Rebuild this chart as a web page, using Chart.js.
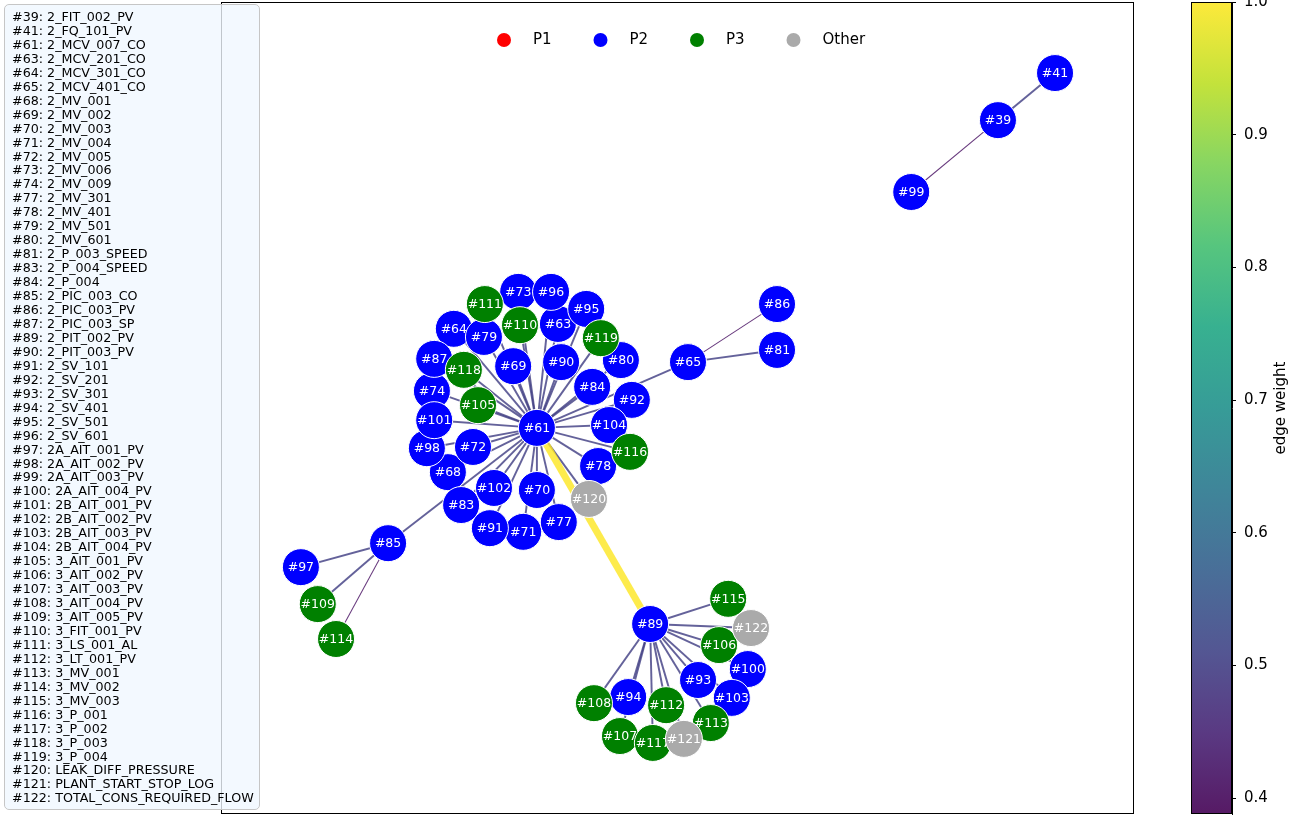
<!DOCTYPE html>
<html>
<head>
<meta charset="utf-8">
<title>Sensor correlation network</title>
<script src="https://cdn.jsdelivr.net/npm/chart.js@4.4.1/dist/chart.umd.min.js"></script>
<style>
  html, body { margin: 0; padding: 0; background: #ffffff; }
  #wrap { position: relative; width: 1305px; height: 817px; overflow: hidden; }
  #main { position: absolute; left: 0; top: 0; }
  #cbar { position: absolute; left: 1180px; top: 0; }
  #names {
    position: absolute; left: 4px; top: 4px; width: 256px; height: 806px;
    box-sizing: border-box; border: 1px solid #c6c6c6; border-radius: 5px;
    background: rgba(240, 247, 255, 0.8);
    padding: 5px 0 0 7px; margin: 0;
    font: 12.7px "DejaVu Sans", sans-serif; line-height: 13.95px; color: #000;
    white-space: pre;
  }
</style>
</head>
<body>
<div id="wrap">
  <canvas id="main" width="1305" height="817"></canvas>
  <canvas id="cbar" width="125" height="817"></canvas>
  <div id="names"></div>
</div>
<script>
// ---- nodes: id, tag name, group, layout position ----
const nodeIds = [39, 41, 61, 63, 64, 65, 68, 69, 70, 71, 72, 73, 74, 77, 78, 79, 80, 81, 83, 84, 85, 86, 87,
  89, 90, 91, 92, 93, 94, 95, 96, 97, 98, 99, 100, 101, 102, 103, 104, 105, 106, 107, 108, 109, 110,
  111, 112, 113, 114, 115, 116, 117, 118, 119, 120, 121, 122];
const nodeNames = ["2_FIT_002_PV", "2_FQ_101_PV", "2_MCV_007_CO", "2_MCV_201_CO", "2_MCV_301_CO", "2_MCV_401_CO",
  "2_MV_001", "2_MV_002", "2_MV_003", "2_MV_004", "2_MV_005", "2_MV_006", "2_MV_009", "2_MV_301", "2_MV_401",
  "2_MV_501", "2_MV_601", "2_P_003_SPEED", "2_P_004_SPEED", "2_P_004", "2_PIC_003_CO", "2_PIC_003_PV",
  "2_PIC_003_SP", "2_PIT_002_PV", "2_PIT_003_PV", "2_SV_101", "2_SV_201", "2_SV_301", "2_SV_401", "2_SV_501",
  "2_SV_601", "2A_AIT_001_PV", "2A_AIT_002_PV", "2A_AIT_003_PV", "2A_AIT_004_PV", "2B_AIT_001_PV",
  "2B_AIT_002_PV", "2B_AIT_003_PV", "2B_AIT_004_PV", "3_AIT_001_PV", "3_AIT_002_PV", "3_AIT_003_PV",
  "3_AIT_004_PV", "3_AIT_005_PV", "3_FIT_001_PV", "3_LS_001_AL", "3_LT_001_PV", "3_MV_001", "3_MV_002",
  "3_MV_003", "3_P_001", "3_P_002", "3_P_003", "3_P_004", "LEAK_DIFF_PRESSURE", "PLANT_START_STOP_LOG",
  "TOTAL_CONS_REQUIRED_FLOW"];
const nodeGroup = ["P2", "P2", "P2", "P2", "P2", "P2", "P2", "P2", "P2", "P2", "P2", "P2", "P2", "P2", "P2",
  "P2", "P2", "P2", "P2", "P2", "P2", "P2", "P2", "P2", "P2", "P2", "P2", "P2", "P2", "P2", "P2", "P2", "P2",
  "P2", "P2", "P2", "P2", "P2", "P2", "P3", "P3", "P3", "P3", "P3", "P3", "P3", "P3", "P3", "P3", "P3", "P3",
  "P3", "P3", "P3", "Other", "Other", "Other"];
const nodeX = [0.702, 0.827, -0.308, -0.262, -0.490, 0.023, -0.503, -0.360, -0.308, -0.338, -0.448, -0.349,
  -0.538, -0.260, -0.174, -0.424, -0.124, 0.218, -0.474, -0.187, -0.634, 0.218, -0.533, -0.060, -0.255,
  -0.411, -0.100, 0.045, -0.108, -0.200, -0.277, -0.825, -0.549, 0.512, 0.154, -0.533, -0.402, 0.119,
  -0.150, -0.437, 0.091, -0.126, -0.183, -0.788, -0.345, -0.422, -0.025, 0.073, -0.748, 0.111, -0.104,
  -0.054, -0.468, -0.168, -0.194, 0.014, 0.161];
const nodeY = [0.709, 0.825, -0.049, 0.207, 0.195, 0.113, -0.158, 0.103, -0.202, -0.305, -0.096, 0.286,
  0.042, -0.281, -0.143, 0.175, 0.118, 0.143, -0.239, 0.052, -0.333, 0.256, 0.121, -0.532, 0.113, -0.296,
  0.020, -0.670, -0.712, 0.244, 0.286, -0.392, -0.099, 0.532, -0.643, -0.030, -0.197, -0.714, -0.042,
  0.007, -0.584, -0.808, -0.727, -0.483, 0.204, 0.256, -0.732, -0.776, -0.569, -0.470, -0.108, -0.825,
  0.094, 0.172, -0.224, -0.815, -0.542];

// ---- edges: endpoints and weight ----
const edgeSource = [61, 61, 61, 61, 61, 61, 61, 61, 61, 61, 61, 61, 61, 61, 61, 61, 61, 61, 61, 61, 61, 61,
  61, 61, 61, 61, 61, 61, 61, 61, 61, 61, 61, 61, 65, 65, 39, 39, 85, 85, 85,
  89, 89, 89, 89, 89, 89, 89, 89, 89, 89, 89, 89, 89, 61];
const edgeTarget = [63, 64, 68, 69, 70, 71, 72, 73, 74, 77, 78, 79, 80, 83, 84, 87, 90, 91, 92, 95, 96, 98,
  101, 102, 104, 105, 110, 111, 116, 118, 119, 120, 65, 85, 86, 81, 41, 99, 97, 109, 114,
  115, 122, 106, 100, 93, 103, 113, 121, 112, 117, 107, 94, 108, 89];
const edgeWeight = [0.50, 0.50, 0.50, 0.50, 0.50, 0.50, 0.50, 0.50, 0.50, 0.50, 0.50, 0.50, 0.50, 0.50, 0.50,
  0.50, 0.50, 0.50, 0.50, 0.50, 0.50, 0.50, 0.50, 0.50, 0.50, 0.50, 0.50, 0.50, 0.50, 0.50, 0.50, 0.50,
  0.50, 0.50, 0.41, 0.50, 0.50, 0.41, 0.50, 0.50, 0.41,
  0.50, 0.50, 0.50, 0.50, 0.50, 0.50, 0.50, 0.50, 0.50, 0.50, 0.50, 0.50, 0.50, 1.00];

// ---- groups and colour scale ----
const groupNames = ["P1", "P2", "P3", "Other"];
const groupColors = ["#ff0000", "#0000ff", "#008000", "#aaaaaa"];
const weightMin = 0.388, weightMax = 1.0;
const colorbarTicks = [0.4, 0.5, 0.6, 0.7, 0.8, 0.9, 1.0];

// viridis colour map (stops at 0, 0.1, ... 1)
const VIRIDIS = [[68, 1, 84], [72, 36, 117], [65, 68, 135], [53, 95, 141], [42, 120, 142], [33, 145, 140],
  [34, 168, 132], [68, 191, 112], [122, 209, 81], [189, 223, 38], [253, 231, 37]];
function viridis(t) {
  t = Math.max(0, Math.min(1, t));
  const p = t * 10, i = Math.min(9, Math.floor(p)), f = p - i;
  const a = VIRIDIS[i], b = VIRIDIS[i + 1];
  return [0, 1, 2].map(k => Math.round(a[k] + (b[k] - a[k]) * f));
}
const norm = w => (w - weightMin) / (weightMax - weightMin);

// ---- node name list ----
document.getElementById('names').textContent =
  nodeIds.map((id, i) => '#' + id + ': ' + nodeNames[i]).join('\n');

// ---- datasets ----
const posOf = {};
nodeIds.forEach((id, i) => { posOf[id] = { x: nodeX[i], y: nodeY[i] }; });

const nodeDatasets = groupNames.map((g, gi) => ({
  label: g,
  isNode: true,
  data: nodeIds.map((id, i) => nodeGroup[i] === g ? { x: nodeX[i], y: nodeY[i], id: id } : null).filter(Boolean),
  backgroundColor: groupColors[gi],
  borderColor: '#ffffff',
  borderWidth: 1,
  pointRadius: 18.5,
  pointHoverRadius: 18.5,
  showLine: false,
  order: 4 - gi
}));

const edgeDatasets = edgeSource.map((s, i) => {
  const c = viridis(norm(edgeWeight[i]));
  return {
    label: 'edge',
    isEdge: true,
    data: [posOf[s], posOf[edgeTarget[i]]],
    showLine: true,
    borderColor: `rgba(${c[0]},${c[1]},${c[2]},0.82)`,
    borderWidth: 0.8 + 6.2 * norm(edgeWeight[i]),
    pointRadius: 0,
    pointHoverRadius: 0,
    borderCapStyle: 'butt',
    order: 10 + (edgeWeight[i] >= 0.9 ? 0 : 1)
  };
});

// labels on nodes, drawn right after each group so later groups overlap them
const nodeLabels = {
  id: 'nodeLabels',
  afterDatasetDraw(chart, args) {
    const ds = chart.data.datasets[args.index];
    if (!ds.isNode) return;
    const ctx = chart.ctx;
    ctx.save();
    ctx.fillStyle = '#ffffff';
    ctx.font = '12.5px "DejaVu Sans", sans-serif';
    ctx.textAlign = 'center';
    ctx.textBaseline = 'middle';
    args.meta.data.forEach((pt, j) => {
      ctx.fillText('#' + ds.data[j].id, pt.x, pt.y + 0.5);
    });
    ctx.restore();
  }
};

// group legend inside the top of the plot, plus the axes frame
const groupLegend = {
  id: 'groupLegend',
  afterDraw(chart) {
    const ctx = chart.ctx, a = chart.chartArea;
    const cx = (a.left + a.right) / 2;
    ctx.save();
    ctx.font = '15px "DejaVu Sans", sans-serif';
    ctx.textBaseline = 'middle';
    ctx.textAlign = 'left';
    groupNames.forEach((g, i) => {
      const mx = cx - 173.5 + i * 96.5, my = a.top + 38;
      ctx.beginPath();
      ctx.arc(mx, my, 7, 0, Math.PI * 2);
      ctx.fillStyle = groupColors[i];
      ctx.fill();
      ctx.fillStyle = '#000';
      ctx.fillText(g, mx + 29, my + 0.5);
    });
    ctx.strokeStyle = '#000';
    ctx.lineWidth = 1;
    ctx.strokeRect(a.left + 0.5, a.top + 0.5, a.right - a.left - 1, a.bottom - a.top - 1);
    ctx.restore();
  }
};

new Chart(document.getElementById('main'), {
  type: 'scatter',
  data: { datasets: [...nodeDatasets, ...edgeDatasets] },
  options: {
    responsive: false,
    animation: false,
    devicePixelRatio: 1,
    layout: { autoPadding: false, padding: { left: 221, top: 2, right: 171, bottom: 3 } },
    scales: {
      x: { type: 'linear', min: -1, max: 1, display: false },
      y: { type: 'linear', min: -1, max: 1, display: false }
    },
    plugins: { legend: { display: false }, tooltip: { enabled: false } },
    events: []
  },
  plugins: [nodeLabels, groupLegend]
});

// ---- colour bar for edge weight ----
const colorbarDecor = {
  id: 'colorbarDecor',
  afterDraw(chart) {
    const ctx = chart.ctx, a = chart.chartArea;
    ctx.save();
    ctx.strokeStyle = '#000';
    ctx.lineWidth = 1;
    ctx.strokeRect(a.left + 0.5, a.top + 0.5, a.right - a.left - 1, a.bottom - a.top - 1);
    ctx.translate(101, (a.top + a.bottom) / 2);
    ctx.rotate(-Math.PI / 2);
    ctx.fillStyle = '#000';
    ctx.font = '15px "DejaVu Sans", sans-serif';
    ctx.textAlign = 'center';
    ctx.textBaseline = 'middle';
    ctx.fillText('edge weight', 0, 0);
    ctx.restore();
  }
};

new Chart(document.getElementById('cbar'), {
  type: 'bar',
  data: {
    labels: [''],
    datasets: [{
      data: [[weightMin, weightMax]],
      barPercentage: 1,
      categoryPercentage: 1,
      borderWidth: 0,
      backgroundColor(ctx) {
        const chart = ctx.chart, a = chart.chartArea;
        if (!a) return '#888';
        const ys = chart.scales.y;
        const g = chart.ctx.createLinearGradient(0, ys.getPixelForValue(weightMin), 0, ys.getPixelForValue(weightMax));
        for (let k = 0; k <= 10; k++) {
          const c = VIRIDIS[k];
          g.addColorStop(k / 10, `rgba(${c[0]},${c[1]},${c[2]},0.9)`);
        }
        return g;
      }
    }]
  },
  options: {
    responsive: false,
    animation: false,
    devicePixelRatio: 1,
    layout: { autoPadding: false, padding: { left: 11, top: 2, right: 0, bottom: 3 } },
    scales: {
      x: { display: false },
      y: {
        position: 'right',
        min: weightMin, max: weightMax,
        afterFit(scale) { scale.width = 73; scale.paddingTop = 0; scale.paddingBottom = 0; },
        afterBuildTicks(scale) { scale.ticks = colorbarTicks.map(v => ({ value: v })); },
        ticks: {
          color: '#000', padding: 8,
          font: { family: '"DejaVu Sans", sans-serif', size: 15 },
          callback: v => Number(v).toFixed(1)
        },
        grid: { drawOnChartArea: false, tickLength: 4, color: '#000', tickWidth: 1 },
        border: { display: true, color: '#000' }
      }
    },
    plugins: { legend: { display: false }, tooltip: { enabled: false } },
    events: []
  },
  plugins: [colorbarDecor]
});
</script>
</body>
</html>
